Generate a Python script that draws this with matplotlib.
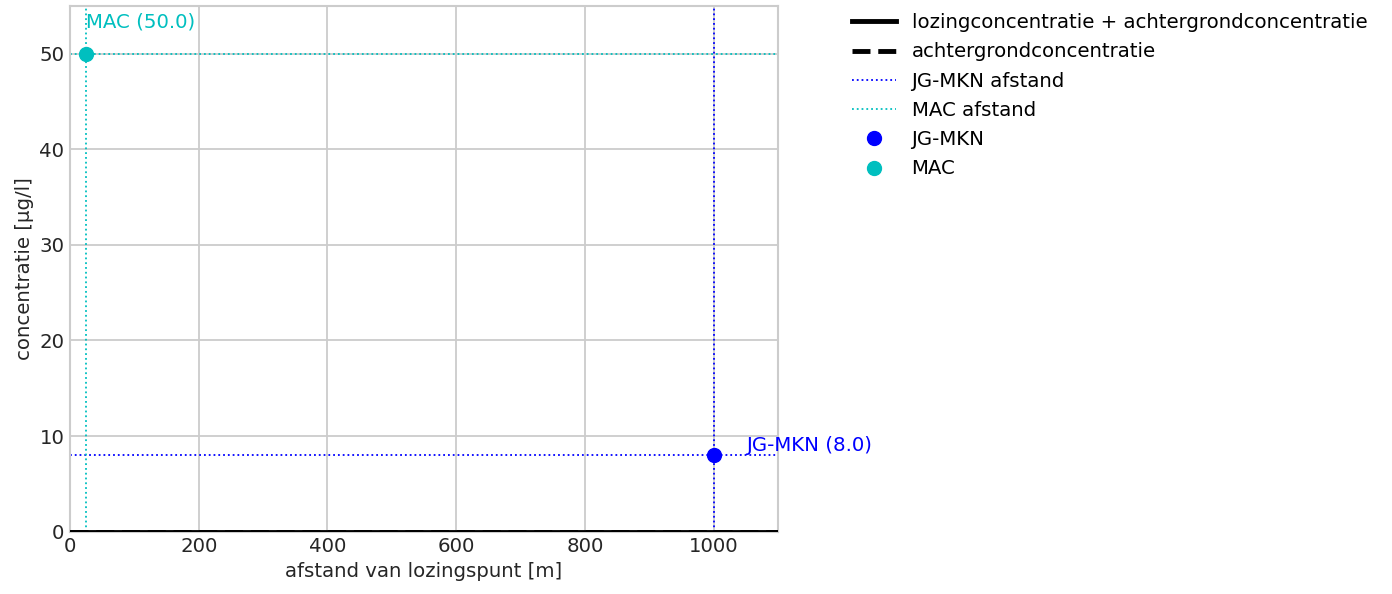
import numpy as np
import matplotlib
matplotlib.use("Agg")
from matplotlib import pyplot as plt

# data
afstand = [0, 1100]
lozing_plus_achtergrond = [0, 0]
achtergrond = [0, 0]
jg_mkn_value = 8.0
jg_mkn_afstand = 1000
mac_value = 50.0
mac_afstand = 25
xlim = (0, 1100)
ylim = (0, 55)

fs = 14.2
plt.rcParams['font.family'] = ['DejaVu Sans']
plt.rcParams['font.size'] = fs

fig = plt.figure(figsize=(13.92, 5.94), dpi=100)
ax = fig.add_axes([0.0503, 0.105, 0.5086, 0.885])

ax.plot(afstand, lozing_plus_achtergrond, color='black', lw=3.5,
        label='lozingconcentratie + achtergrondconcentratie', zorder=3)
ax.plot(afstand, achtergrond, color='black', lw=3.5, ls='--',
        label='achtergrondconcentratie', zorder=3)

ax.axhline(jg_mkn_value, color='blue', ls=':', lw=1.3, label='JG-MKN afstand')
ax.axvline(jg_mkn_afstand, color='blue', ls=':', lw=1.3)
ax.axhline(mac_value, color='c', ls=':', lw=1.3, label='MAC afstand')
ax.axvline(mac_afstand, color='c', ls=':', lw=1.3)

ax.plot([jg_mkn_afstand], [jg_mkn_value], 'o', color='blue', ms=10,
        label='JG-MKN', zorder=4)
ax.plot([mac_afstand], [mac_value], 'o', color='c', ms=10,
        label='MAC', zorder=4)

ax.text(jg_mkn_afstand + 50, jg_mkn_value, 'JG-MKN (%.1f)' % jg_mkn_value,
        color='blue', fontsize=fs, va='bottom', ha='left')
ax.text(mac_afstand, mac_value + 2.3, 'MAC (%.1f)' % mac_value,
        color='c', fontsize=fs, va='bottom', ha='left')

ax.set_xlim(*xlim)
ax.set_ylim(*ylim)
ax.set_xlabel('afstand van lozingspunt [m]', fontsize=fs, color='#262626')
ax.set_ylabel('concentratie [µg/l]', fontsize=fs, color='#262626')
ax.grid(True, color='#cccccc', lw=1.3)
ax.set_axisbelow(True)
for s in ax.spines.values():
    s.set_color('#cccccc')
    s.set_linewidth(1.5)
ax.tick_params(length=0, labelsize=fs, labelcolor='#262626', pad=4)

ax.legend(loc='upper left', bbox_to_anchor=(1.08, 1.02), frameon=False,
          fontsize=fs, handlelength=2.2, labelspacing=0.52)

fig.savefig('out.png', dpi=100)
